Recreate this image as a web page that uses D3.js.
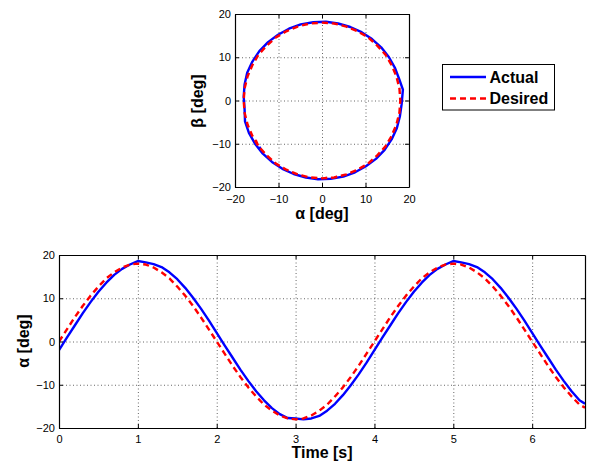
<!DOCTYPE html>
<html><head><meta charset="utf-8">
<script src="https://cdn.jsdelivr.net/npm/d3@7/dist/d3.min.js"></script>
<style>
body{margin:0;background:#fff}
svg{display:block}
text{font-family:"Liberation Sans",Arial,Helvetica,sans-serif;fill:#000}
</style>
</head><body>
<svg id="chart" width="591" height="462"></svg>
<script>
// ---- data ----
const time = [0,0.1,0.2,0.3,0.4,0.5,0.6,0.7,0.8,0.9,1.0,
  1.1,1.2,1.3,1.4,1.5,1.6,1.7,1.8,1.9,2.0,
  2.1,2.2,2.3,2.4,2.5,2.6,2.7,2.8,2.9,3.0,
  3.1,3.2,3.3,3.4,3.5,3.6,3.7,3.8,3.9,4.0,
  4.1,4.2,4.3,4.4,4.5,4.6,4.7,4.8,4.9,5.0,
  5.1,5.2,5.3,5.4,5.5,5.6,5.7,5.8,5.9,6.0,
  6.1,6.2,6.3,6.4,6.5,6.6,6.67];
const alphaActual = [-2.0,0.9,3.7,6.5,9.1,11.5,13.6,15.4,16.8,17.8,18.6,
  18.3,17.9,17.2,16.0,14.4,12.4,10.1,7.6,4.9,2.0,
  -0.9,-3.7,-6.5,-9.1,-11.5,-13.6,-15.4,-16.8,-17.7,-17.8,
  -18.0,-17.8,-17.2,-16.0,-14.4,-12.4,-10.1,-7.6,-4.9,-2.0,
  0.9,3.7,6.5,9.1,11.5,13.6,15.4,16.8,17.8,18.6,
  18.3,17.9,17.2,16.0,14.4,12.4,10.1,7.6,4.9,2.0,
  -0.9,-3.7,-6.5,-9.1,-11.5,-13.6,-14.4];
const alphaDesired = [0,2.8,5.6,8.2,10.6,12.7,14.6,16.0,17.1,17.8,18.0,
  17.8,17.1,16.0,14.6,12.7,10.6,8.2,5.6,2.8,0,
  -2.8,-5.6,-8.2,-10.6,-12.7,-14.6,-16.0,-17.1,-17.8,-18.0,
  -17.8,-17.1,-16.0,-14.6,-12.7,-10.6,-8.2,-5.6,-2.8,0,
  2.8,5.6,8.2,10.6,12.7,14.6,16.0,17.1,17.8,18.0,
  17.8,17.1,16.0,14.6,12.7,10.6,8.2,5.6,2.8,0,
  -2.8,-5.6,-8.2,-10.6,-12.7,-14.6,-15.3];
const betaActual = [18.1,18.2,17.8,17.0,15.8,14.2,12.3,10.0,7.5,4.8,2.5,
  -0.9,-3.7,-6.4,-9.0,-11.4,-13.5,-15.2,-16.6,-17.6,-18.1,
  -18.2,-17.8,-17.0,-15.8,-14.2,-12.3,-10.0,-7.5,-4.8,-2.0,
  0.9,3.7,6.4,9.0,11.4,13.5,15.2,16.6,17.6,18.1,
  18.2,17.8,17.0,15.8,14.2,12.3,10.0,7.5,4.8,2.5,
  -0.9,-3.7,-6.4,-9.0,-11.4,-13.5,-15.2,-16.6,-17.6,-18.1,
  -18.2,-17.8,-17.0,-15.8,-14.2,-12.3,-10.7];
const betaDesired = [18.0,17.8,17.1,16.0,14.6,12.7,10.6,8.2,5.6,2.8,0,
  -2.8,-5.6,-8.2,-10.6,-12.7,-14.6,-16.0,-17.1,-17.8,-18.0,
  -17.8,-17.1,-16.0,-14.6,-12.7,-10.6,-8.2,-5.6,-2.8,0,
  2.8,5.6,8.2,10.6,12.7,14.6,16.0,17.1,17.8,18.0,
  17.8,17.1,16.0,14.6,12.7,10.6,8.2,5.6,2.8,0,
  -2.8,-5.6,-8.2,-10.6,-12.7,-14.6,-16.0,-17.1,-17.8,-18.0,
  -17.8,-17.1,-16.0,-14.6,-12.7,-10.6,-9.0];
const angleTicks = [-20,-10,0,10,20];
const timeTicks = [0,1,2,3,4,5,6];
const seriesNames = ["Actual","Desired"];
const seriesColors = ["#0000ff","#ff0000"];
const seriesDash = [null,"6,4"];

// ---- drawing ----
const svg = d3.select("#chart");
const fmt = d => d < 0 ? "\u2212" + Math.abs(d) : String(d);

function panel(id, x, y, xTicks, yTicks, xLabel, yLabel, xLabelPos, yLabelPos, series, yPad) {
  const [x0, x1] = x.range(), [y1, y0] = y.range();
  const w = x1 - x0, h = y1 - y0;
  const g = svg.append("g");
  // grid
  g.append("g").attr("transform", `translate(0,${y1})`)
    .call(d3.axisBottom(x).tickValues(xTicks).tickSize(-h).tickFormat(""))
    .call(a => a.select(".domain").remove())
    .call(a => a.selectAll("line").attr("stroke", "#666").attr("stroke-dasharray", "1,2.5"));
  g.append("g").attr("transform", `translate(${x0},0)`)
    .call(d3.axisLeft(y).tickValues(yTicks).tickSize(-w).tickFormat(""))
    .call(a => a.select(".domain").remove())
    .call(a => a.selectAll("line").attr("stroke", "#666").attr("stroke-dasharray", "1,2.5"));
  // clip
  svg.append("clipPath").attr("id", id).append("rect")
    .attr("x", x0).attr("y", y0).attr("width", w).attr("height", h);
  const lines = g.append("g").attr("clip-path", `url(#${id})`);
  series.forEach((s, i) => {
    lines.append("path").datum(s)
      .attr("fill", "none").attr("stroke", seriesColors[i]).attr("stroke-width", 2.4)
      .attr("stroke-dasharray", seriesDash[i])
      .attr("stroke-linejoin", "round")
      .attr("d", d3.line().x(d => x(d[0])).y(d => y(d[1])));
  });
  // axes with inward ticks
  const ax = (gen, tr) => g.append("g").attr("transform", tr).call(gen)
    .call(a => a.select(".domain").attr("stroke", "#000").attr("stroke-width", 1.2))
    .call(a => a.selectAll("line").attr("stroke", "#000"))
    .call(a => a.selectAll("text").style("font-size", "11px").style("font-family", '"Liberation Sans",Arial,sans-serif'));
  ax(d3.axisBottom(x).tickValues(xTicks).tickSizeInner(-4).tickSizeOuter(0).tickPadding(yPad).tickFormat(fmt), `translate(0,${y1})`);
  ax(d3.axisTop(x).tickValues(xTicks).tickSizeInner(-4).tickSizeOuter(0).tickFormat(""), `translate(0,${y0})`);
  ax(d3.axisLeft(y).tickValues(yTicks).tickSizeInner(-4).tickSizeOuter(0).tickPadding(4).tickFormat(fmt), `translate(${x0},0)`);
  ax(d3.axisRight(y).tickValues(yTicks).tickSizeInner(-4).tickSizeOuter(0).tickFormat(""), `translate(${x1},0)`);
  // labels
  g.append("text").attr("x", xLabelPos[0]).attr("y", xLabelPos[1]).attr("dy", "0.35em")
    .attr("text-anchor", "middle").style("font-size", "16px").style("font-weight", "bold").text(xLabel);
  g.append("text").attr("transform", `translate(${yLabelPos[0]},${yLabelPos[1]}) rotate(-90)`)
    .attr("dy", "0.35em").attr("text-anchor", "middle")
    .style("font-size", "16px").style("font-weight", "bold").text(yLabel);
}

// top: beta vs alpha
const xTop = d3.scaleLinear().domain([-20, 20]).range([235, 409]);
const yTop = d3.scaleLinear().domain([-20, 20]).range([187, 14]);
panel("clipTop", xTop, yTop, angleTicks, angleTicks, "\u03b1 [deg]", "\u03b2 [deg]",
  [322, 213], [197, 101],
  [alphaActual.map((a, i) => [a, betaActual[i]]), alphaDesired.map((a, i) => [a, betaDesired[i]])], 8);

// bottom: alpha vs time
const xBot = d3.scaleLinear().domain([0, 6.67]).range([59, 585]);
const yBot = d3.scaleLinear().domain([-20, 20]).range([428, 255]);
panel("clipBot", xBot, yBot, timeTicks, angleTicks, "Time [s]", "\u03b1 [deg]",
  [322, 452], [23, 341],
  [time.map((t, i) => [t, alphaActual[i]]), time.map((t, i) => [t, alphaDesired[i]])], 7);

// legend
const lg = svg.append("g");
lg.append("rect").attr("x", 442.5).attr("y", 64.5).attr("width", 112).attr("height", 45.5)
  .attr("fill", "#fff").attr("stroke", "#000").attr("stroke-width", 1);
seriesNames.forEach((n, i) => {
  const cy = 77 + i * 21.5;
  lg.append("line").attr("x1", 450).attr("x2", 486).attr("y1", cy).attr("y2", cy)
    .attr("stroke", seriesColors[i]).attr("stroke-width", 2.4).attr("stroke-dasharray", seriesDash[i]);
  lg.append("text").attr("x", 489.5).attr("y", cy).attr("dy", "0.36em")
    .style("font-size", "16px").style("font-weight", "bold").text(n);
});
</script>
</body></html>
